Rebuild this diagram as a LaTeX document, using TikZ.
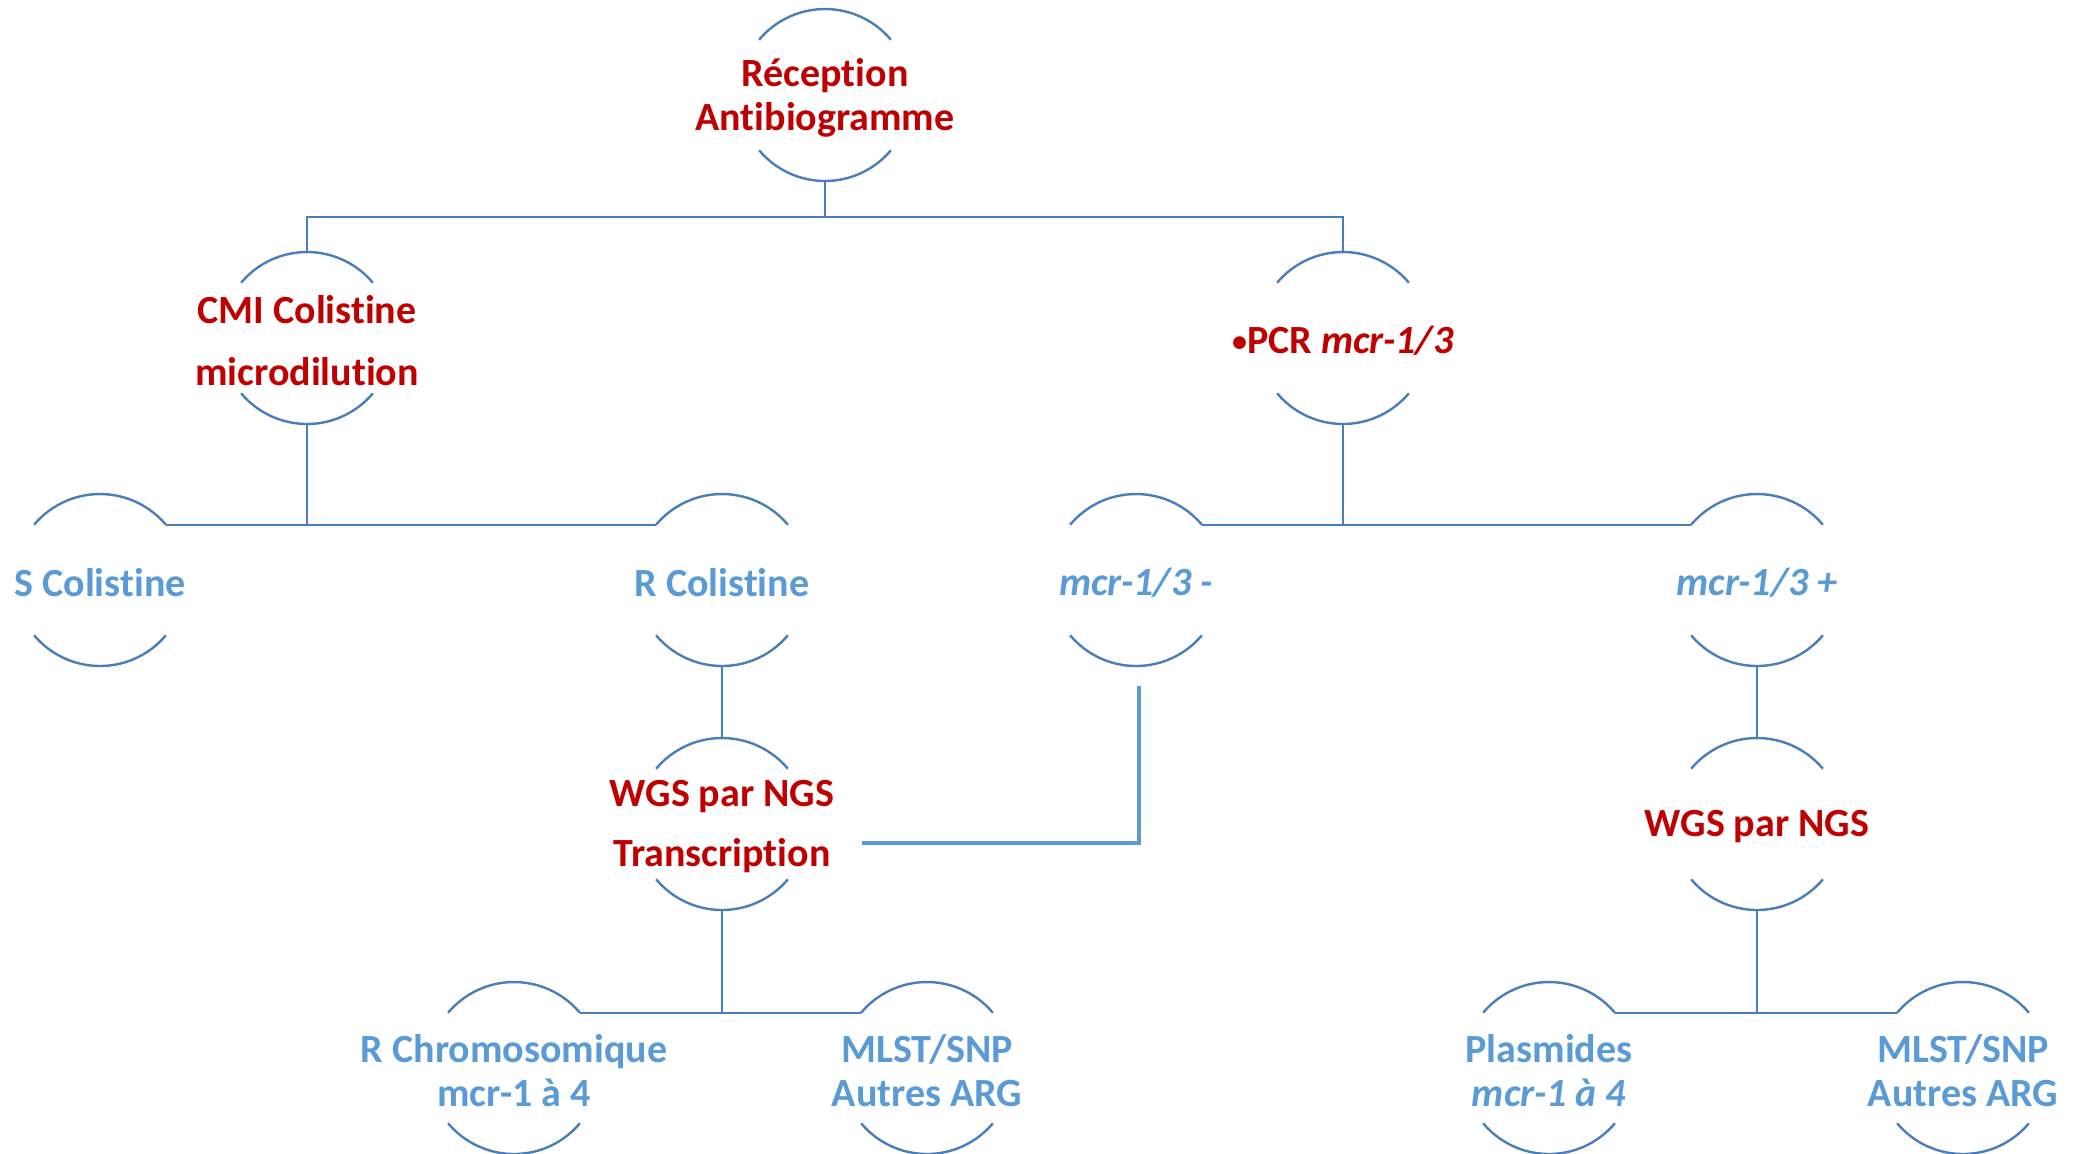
\documentclass[tikz,border=0pt]{standalone}
\usepackage{fontspec}
\setmainfont{Carlito}[Ligatures=NoCommon,RawFeature={-liga;-clig}]
\definecolor{redtxt}{HTML}{C00000}
\definecolor{bluetxt}{HTML}{5B9BD5}
\definecolor{lineblue}{HTML}{4A7EBB}
\begin{document}
\begin{tikzpicture}[x=0.5pt,y=-0.5pt,
  lbl/.style={inner sep=0pt, align=center, yshift=-1.5pt,
    font=\fontsize{20}{22}\selectfont\bfseries},
  redn/.style={lbl, text=redtxt},
  bluen/.style={lbl, text=bluetxt},
  arcline/.style={draw=lineblue, line width=1.2pt},
  conn/.style={draw=lineblue, line width=1.2pt},
  extra/.style={draw=bluetxt, line width=2pt}]
\useasboundingbox (0,0) rectangle (2076,1153);
% circle centres
\coordinate (top-c) at (825,95);
\coordinate (cmi-c) at (307,338);
\coordinate (pcr-c) at (1343,338);
\coordinate (scol-c) at (100,580);
\coordinate (rcol-c) at (722,580);
\coordinate (mneg-c) at (1136,580);
\coordinate (mpos-c) at (1757,580);
\coordinate (wgsl-c) at (722,824);
\coordinate (wgsr-c) at (1757,824);
\coordinate (chr-c) at (514,1068);
\coordinate (mlstl-c) at (927,1068);
\coordinate (plas-c) at (1549,1068);
\coordinate (mlstr-c) at (1963,1068);
% labels
\node[redn] (top) at (top-c) {Réception\\Antibiogramme};
\node[redn] (cmi) at (cmi-c) {CMI Colistine\\[9pt]microdilution};
\node[redn] (pcr) at (pcr-c) {{\fontsize{15}{15}\selectfont\raisebox{1pt}{•}}PCR \textit{mcr-1/3}};
\node[bluen] (scol) at (scol-c) {S Colistine};
\node[bluen] (rcol) at (rcol-c) {R Colistine};
\node[bluen] (mneg) at (mneg-c) {\textit{mcr-1/3 -}};
\node[bluen] (mpos) at (mpos-c) {\textit{mcr-1/3 +}};
\node[redn] (wgsl) at (wgsl-c) {WGS par NGS\\[8pt]Transcription};
\node[redn] (wgsr) at (wgsr-c) {WGS par NGS};
\node[bluen] (chr) at (chr-c) {R Chromosomique\\mcr-1 à 4};
\node[bluen] (mlstl) at (mlstl-c) {MLST/SNP\\Autres ARG};
\node[bluen] (plas) at (plas-c) {Plasmides\\\textit{mcr-1 à 4}};
\node[bluen] (mlstr) at (mlstr-c) {MLST/SNP\\Autres ARG};
% arcs and anchor points
\foreach \n in {top,cmi,pcr,scol,rcol,mneg,mpos,wgsl,wgsr,chr,mlstl,plas,mlstr}{
  \coordinate (\n-N) at ([yshift=43pt]\n-c);
  \coordinate (\n-S) at ([yshift=-43pt]\n-c);
  \coordinate (\n-NE) at ([shift={(40:43pt)}]\n-c);
  \coordinate (\n-NW) at ([shift={(140:43pt)}]\n-c);
  \draw[arcline] (\n-NE) arc[start angle=40,end angle=140,radius=43pt];
  \draw[arcline] ([shift={(220:43pt)}]\n-c) arc[start angle=220,end angle=320,radius=43pt];
}
% connectors
\coordinate (h1) at (825,217);
\draw[conn] (top-S) -- (h1);
\draw[conn] (cmi-N) |- (h1) -| (pcr-N);
\draw[conn] (cmi-S) -- (cmi-S |- scol-NE);
\draw[conn] (scol-NE) -- (rcol-NW);
\draw[conn] (pcr-S) -- (pcr-S |- mneg-NE);
\draw[conn] (mneg-NE) -- (mpos-NW);
\draw[conn] (rcol-S) -- (wgsl-N);
\draw[conn] (mpos-S) -- (wgsr-N);
\draw[conn] (wgsl-S) -- (wgsl-S |- chr-NE);
\draw[conn] (chr-NE) -- (mlstl-NW);
\draw[conn] (wgsr-S) -- (wgsr-S |- plas-NE);
\draw[conn] (plas-NE) -- (mlstr-NW);
% extra connector from mcr-1/3 - to WGS
\coordinate (ea) at ([xshift=1.5pt,yshift=-10pt]mneg-S);
\coordinate (eb) at (ea |- 0,843);
\coordinate (ec) at ([xshift=70pt]wgsl-S |- 0,843);
\draw[extra] (ea) -- (eb) -- (ec);
\end{tikzpicture}
\end{document}
